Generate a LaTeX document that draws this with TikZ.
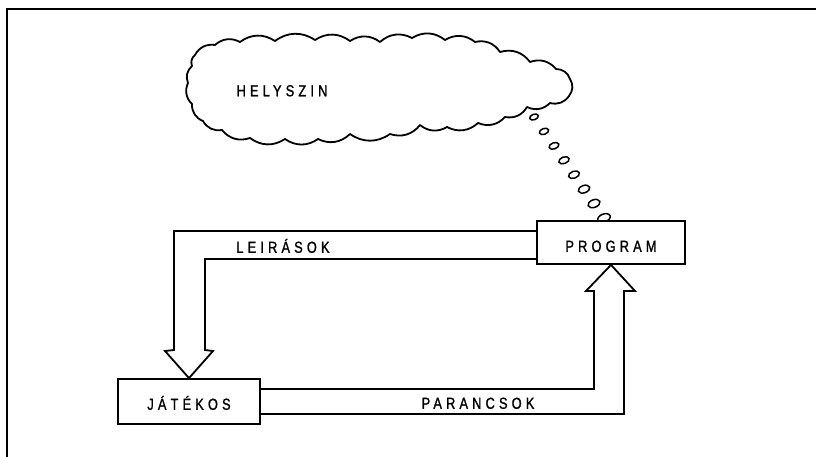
\documentclass[tikz,border=0pt]{standalone}
\usepackage{fontspec}
\usetikzlibrary{calc,shapes.geometric}
\newfontfamily\lblfont[LetterSpace=26,FakeStretch=0.8,FakeBold=1.2]{Liberation Sans}
\tikzset{
  lbl/.style={font=\lblfont\fontsize{16}{16}\selectfont, inner sep=0pt, text height=11.6pt, text depth=0pt},
  boxnode/.style={draw, fill=white, line width=1.8pt, inner sep=0pt, font=\lblfont\fontsize{16}{16}\selectfont, text depth=0pt},
  bubble/.style={draw, ellipse, line width=1.5pt, inner sep=0pt},
  conn/.style={line width=1.8pt, line join=miter},
}
\begin{document}
\begin{tikzpicture}[x=1pt,y=-1pt]
\useasboundingbox (0,0) rectangle (816,457);
% frame
\draw[line width=2.2pt] (816,9) -- (7,9) -- (7,457);
% cloud
\draw[line width=1.8pt, line join=round]
 (195,55) to[bend left=35] (215,45) to[bend left=35] (240,42) to[bend left=35] (275,41)
 to[bend left=35] (315,40) to[bend left=35] (350,41) to[bend left=35] (380,42)
 to[bend left=35] (412,38) to[bend left=35] (445,40) to[bend left=35] (475,42)
 to[bend left=35] (500,52) to[bend left=35] (530,62) to[bend left=35] (556,69)
 to[bend left=35] (570,79) to[bend left=35] (569,96) to[bend left=35] (550,103)
 to[bend left=35] (527,107) to[bend left=35] (505,117) to[bend left=35] (478,123)
 to[bend left=35] (447,127) to[bend left=35] (420,125) to[bend left=35] (390,134)
 to[bend left=35] (350,134) to[bend left=35] (318,139) to[bend left=35] (285,139)
 to[bend left=35] (250,138) to[bend left=35] (222,130) to[bend left=35] (203,121)
 to[bend left=35] (192,104) to[bend left=35] (188,83) to[bend left=35] (192,66)
 to[bend left=35] cycle;
\node[lbl] (helyszin) at (282,90.5) {HELYSZIN};
\coordinate (tail) at (534,117);
\coordinate (btip) at (604,218);
% thought bubbles
\foreach \i in {0,...,7}{
  \pgfmathsetmacro{\bw}{9+4*\i/7}
  \pgfmathsetmacro{\bh}{5.5+2.5*\i/7}
  \node[bubble, rotate=20, minimum width=\bw pt, minimum height=\bh pt] at ($(tail)!\i/7!(btip)$) {};
}
% boxes
\node[boxnode, minimum width=148pt, minimum height=43pt, text height=18.6pt] (prog) at (611,242.5) {PROGRAM};
\node[boxnode, minimum width=142pt, minimum height=45pt, text height=16.6pt] (jat) at (189,401.5) {JÁTÉKOS};
% LEIRASOK arrow
\draw[conn] ($(prog.west)+(0,-11.5)$) -- (174,231) -- (174,350) -- (165,351) -- (jat.north)
  -- (213,351) -- (205,350) -- (205,259) -- ($(prog.west)+(0,16.5)$);
\node[lbl] (leir) at (283,247) {LEIRÁSOK};
% PARANCSOK arrow
\draw[conn] ($(jat.east)+(0,-12.5)$) -- (594,389) -- (594,291) -- (586,291) -- (prog.south)
  -- (635,291) -- (624,291) -- (624,414) -- ($(jat.east)+(0,12.5)$);
\node[lbl] (par) at (478,403) {PARANCSOK};
\end{tikzpicture}
\end{document}
